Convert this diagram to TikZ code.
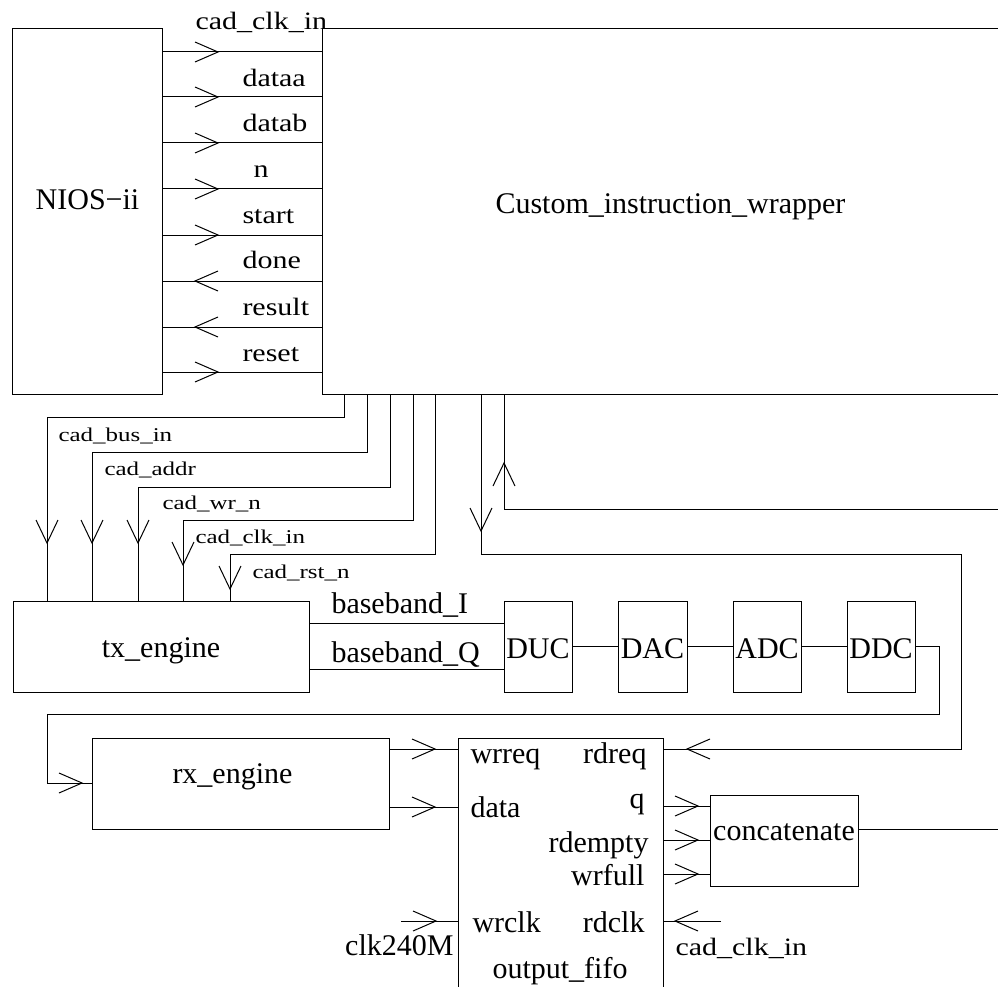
\documentclass[tikz,border=0pt]{standalone}
\usepackage{fontspec}
\setmainfont{Liberation Serif}
\newfontfamily\fA{Liberation Serif}[FakeStretch=1.2]
\newfontfamily\fB{Liberation Serif}[FakeStretch=1.28]
\begin{document}
\begin{tikzpicture}[x=1pt,y=-1pt,line width=1pt,
  box/.style={draw,rectangle,inner sep=0pt,outer sep=0pt},
  lab/.style={inner sep=0pt,font=\fontsize{30}{30}\selectfont},
  labA/.style={inner sep=0pt,font=\fontsize{25}{25}\fA},
  labB/.style={inner sep=0pt,font=\fontsize{19.5}{20}\fB},
  tipright/.pic={\draw (-23,-10) -- (0,0) -- (-23,10);},
  tipleft/.pic={\draw (23,-10) -- (0,0) -- (23,10);},
  tipdown/.pic={\draw (-11,-23) -- (0,0) -- (11,-23);},
  tipup/.pic={\draw (-11,23) -- (0,0) -- (11,23);}]
\useasboundingbox (0,0) rectangle (998,987);
\clip (0,0) rectangle (998,987);

% boxes
\node[box,minimum width=150pt,minimum height=365pt] (nios) at (87,211.5) {};
\node[inner sep=0pt,outer sep=0pt,minimum width=700pt,minimum height=365pt] (wrap) at (672,211.5) {};
\draw (wrap.north east) -- (wrap.north west) -- (wrap.south west) -- (wrap.south east);
\node[box,minimum width=296pt,minimum height=91pt] (tx) at (161,646.5) {};
\node[box,minimum width=68pt,minimum height=91pt] (duc) at (538,646.5) {};
\node[box,minimum width=69pt,minimum height=91pt] (dac) at (652.5,646.5) {};
\node[box,minimum width=68pt,minimum height=91pt] (adc) at (767,646.5) {};
\node[box,minimum width=68pt,minimum height=91pt] (ddc) at (881,646.5) {};
\node[box,minimum width=297pt,minimum height=91pt] (rx) at (240.5,783.5) {};
\node[box,minimum width=205pt,minimum height=272pt] (fifo) at (560.5,874) {};
\node[box,minimum width=148pt,minimum height=91pt] (cat) at (784,840.5) {};

% box texts
\node[lab,anchor=base] (niosT) at (87.5,210) {NIOS−ii};
\node[lab,anchor=base west] (wrapT) at (495,213) {Custom\_instruction\_wrapper};
\node[lab,anchor=base] (txT) at (161,657) {tx\_engine};
\node[lab,anchor=base west] (rxT) at (172,783) {rx\_engine};
\node[lab,anchor=base] (ducT) at (538,658) {DUC};
\node[lab,anchor=base] (dacT) at (652.5,658) {DAC};
\node[lab,anchor=base] (adcT) at (767,658) {ADC};
\node[lab,anchor=base] (ddcT) at (881,658) {DDC};
\node[lab,anchor=base] (catT) at (784,840) {concatenate};
\node[lab,anchor=base] (fifoT) at (560,978) {output\_fifo};

% NIOS <-> wrapper signals
\foreach \yy in {52,97,143,189,235,281,327,372}
  \draw (nios.east |- 0,\yy) -- (wrap.west |- 0,\yy);
\foreach \yy in {52,97,143,189,235,372}
  \pic at (218,\yy) {tipright};
\foreach \yy in {281,327}
  \pic at (195,\yy) {tipleft};
\node[labA,anchor=base west] (l1) at (195,30) {cad\_clk\_in};
\node[labA,anchor=base west] (l2) at (242,87) {dataa};
\node[labA,anchor=base west] (l3) at (242,132) {datab};
\node[labA,anchor=base west] (l4) at (253,178) {n};
\node[labA,anchor=base west] (l5) at (242,223) {start};
\node[labA,anchor=base west] (l6) at (242,268) {done};
\node[labA,anchor=base west] (l7) at (242,315) {result};
\node[labA,anchor=base west] (l8) at (242,361) {reset};

% wrapper -> tx_engine control bus
\draw (344,0 |- wrap.south) |- (47,417) -- (47,0 |- tx.north);
\draw (367,0 |- wrap.south) |- (92,452) -- (92,0 |- tx.north);
\draw (390,0 |- wrap.south) |- (138,487) -- (138,0 |- tx.north);
\draw (413,0 |- wrap.south) |- (183,520) -- (183,0 |- tx.north);
\draw (435,0 |- wrap.south) |- (230,554) -- (230,0 |- tx.north);
\pic at (47,543) {tipdown};
\pic at (92,543) {tipdown};
\pic at (138,543) {tipdown};
\pic at (183,565) {tipdown};
\pic at (230,589) {tipdown};
\node[labB,anchor=base west] (c1) at (58,441) {cad\_bus\_in};
\node[labB,anchor=base west] (c2) at (104,475) {cad\_addr};
\node[labB,anchor=base west] (c3) at (162,509) {cad\_wr\_n};
\node[labB,anchor=base west] (c4) at (195,543) {cad\_clk\_in};
\node[labB,anchor=base west] (c5) at (252,578) {cad\_rst\_n};

% wrapper -> fifo rdreq
\draw (481,0 |- wrap.south) |- (961,554) |- (fifo.east |- 0,749);
\pic at (481,531) {tipdown};
\pic at (687,749) {tipleft};

% incoming line to wrapper
\coordinate (upin) at (998,509);
\draw (upin) -| (504,0 |- wrap.south);
\pic at (504,463) {tipup};

% tx chain
\draw (tx.east |- 0,623) -- (duc.west |- 0,623);
\draw (tx.east |- 0,669) -- (duc.west |- 0,669);
\node[lab,anchor=base west] (bi) at (331,613) {baseband\_I};
\node[lab,anchor=base west] (bq) at (331,662) {baseband\_Q};
\draw (duc.east) -- (dac.west);
\draw (dac.east) -- (adc.west);
\draw (adc.east) -- (ddc.west);
\draw (ddc.east |- 0,646) -| (939,714) -| (47,783) -- (rx.west |- 0,783);
\pic at (82,783) {tipright};

% rx -> fifo
\draw (rx.east |- 0,749) -- (fifo.west |- 0,749);
\draw (rx.east |- 0,807) -- (fifo.west |- 0,807);
\pic at (435,749) {tipright};
\pic at (435,807) {tipright};

% fifo -> concatenate
\foreach \yy in {806,840,874} {
  \draw (fifo.east |- 0,\yy) -- (cat.west |- 0,\yy);
  \pic at (698,\yy) {tipright};
}
\coordinate (catout) at (998,829);
\draw (cat.east |- 0,829) -- (catout);

% clocks
\coordinate (wrclkin) at (401,921);
\draw (wrclkin) -- (fifo.west |- 0,921);
\pic at (436,921) {tipright};
\coordinate (rdclkin) at (721,921);
\draw (rdclkin) -- (fifo.east |- 0,921);
\pic at (675,921) {tipleft};

% fifo port labels
\node[lab,anchor=base west] (p1) at (470,763) {wrreq};
\node[lab,anchor=base east] (p2) at (647,763) {rdreq};
\node[lab,anchor=base east] (p3) at (645,808) {q};
\node[lab,anchor=base west] (p4) at (470,817) {data};
\node[lab,anchor=base east] (p5) at (649,852) {rdempty};
\node[lab,anchor=base east] (p6) at (645,885) {wrfull};
\node[lab,anchor=base west] (p7) at (472,932) {wrclk};
\node[lab,anchor=base east] (p8) at (645,932) {rdclk};
\node[lab,anchor=base east] (k1) at (454,955) {clk240M};
\node[labA,anchor=base west] (k2) at (675,955) {cad\_clk\_in};
\end{tikzpicture}
\end{document}
